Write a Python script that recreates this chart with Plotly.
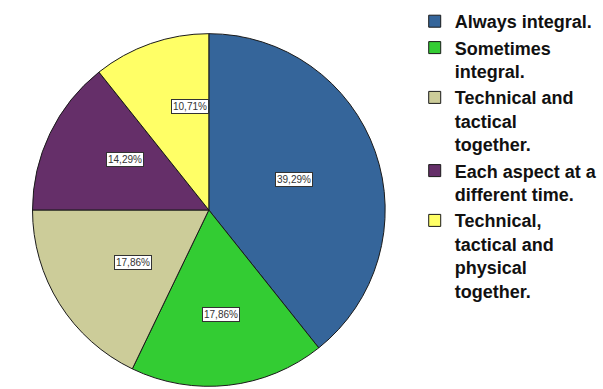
import math
import plotly.graph_objects as go

labels = [
    "Always integral.",
    "Sometimes<br>integral.",
    "Technical and<br>tactical<br>together.",
    "Each aspect at a<br>different time.",
    "Technical,<br>tactical and<br>physical<br>together.",
]
values = [39.29, 17.86, 17.86, 14.29, 10.71]
colors = ["#35659A", "#33CC33", "#CCCC99", "#652F69", "#FFFF66"]

W, H = 603, 389
# pie placement (pixels)
cx_px, cy_px, R = 212, 210, 179

fig = go.Figure()
fig.add_trace(go.Pie(
    labels=labels,
    values=values,
    sort=False,
    direction="clockwise",
    rotation=0,
    textinfo="none",
    hoverinfo="label+percent",
    marker=dict(colors=colors, line=dict(color="#1a1a1a", width=1)),
    domain=dict(x=[(cx_px - R) / W, (cx_px + R) / W],
                y=[1 - (cy_px + R) / H, 1 - (cy_px - R) / H]),
))

# boxed percentage labels at each sector's centroid
total = sum(values)
start = 0.0
annotations = []
for v in values:
    span = 2 * math.pi * v / total
    mid = start + span / 2
    half = span / 2
    d = (2.0 / 3.0) * R * math.sin(half) / half
    x_px = cx_px + d * math.sin(mid)
    y_px = cy_px - d * math.cos(mid)
    annotations.append(dict(
        x=x_px / W, y=1 - y_px / H, xref="paper", yref="paper",
        text=f"{v:.2f}".replace(".", ",") + "%",
        showarrow=False,
        font=dict(family="Liberation Sans", size=10, color="#333333"),
        bgcolor="white", bordercolor="#333333", borderwidth=1, borderpad=1,
    ))
    start += span

fig.update_layout(
    width=W, height=H,
    margin=dict(l=0, r=0, t=0, b=0),
    paper_bgcolor="white",
    plot_bgcolor="white",
    annotations=annotations,
    showlegend=True,
    legend=dict(
        x=421 / W, xanchor="left",
        y=1 - 3 / H, yanchor="top",
        font=dict(family="Liberation Sans", size=18, color="#111111", weight="bold"),
        valign="top",
        bgcolor="rgba(0,0,0,0)",
        tracegroupgap=0,
    ),
)

fig.write_html("out.html")
